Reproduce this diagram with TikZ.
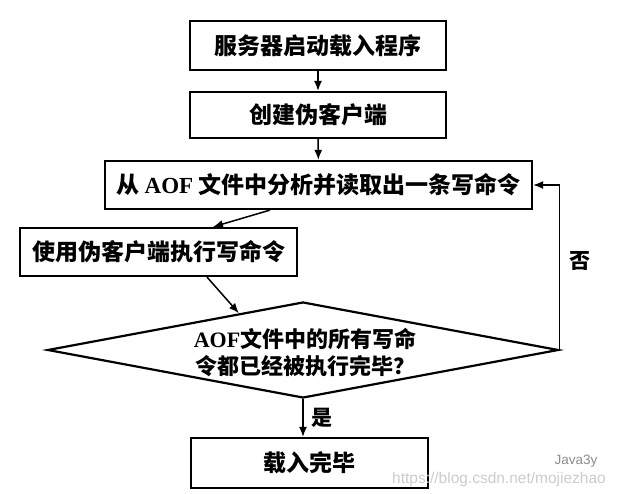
\documentclass[tikz,border=0pt]{standalone}
\usepackage{fontspec}
\setmainfont{Noto Sans CJK SC}
\newfontfamily\lat{Liberation Serif}
\newfontfamily\wm{Liberation Sans}
\usetikzlibrary{shapes.geometric,arrows.meta,calc}
\begin{document}
\begin{tikzpicture}[x=1pt,y=-1pt,
  box/.style={draw,line width=2.2pt,rectangle,inner sep=0pt,font=\fontsize{23}{26}\selectfont\bfseries},
  arr/.style={line width=1.5pt,-{Latex[length=10pt,width=8pt]}},
  lbl/.style={font=\fontsize{21}{24}\selectfont\bfseries}]
\useasboundingbox (0,0) rectangle (618,494);
\node[box,minimum width=256pt,minimum height=49pt] (b1) at (318,45.5) {服务器启动载入程序};
\node[box,minimum width=256pt,minimum height=46pt] (b2) at (318,115) {创建伪客户端};
\node[box,minimum width=427pt,minimum height=48pt] (b3) at (318.5,185) {从 {\lat\bfseries AOF} 文件中分析并读取出一条写命令};
\node[box,minimum width=277pt,minimum height=48pt] (b4) at (158.5,252) {使用伪客户端执行写命令};
\node[draw,line width=2.2pt,diamond,inner sep=0pt,minimum width=511pt,minimum height=96pt] (d) at (303,350) {};
\node[align=center,font=\fontsize{22}{27}\selectfont\bfseries] (dt) at (305,353) {{\lat\bfseries AOF}文件中的所有写命\\令都已经被执行完毕？};
\node[box,minimum width=237pt,minimum height=50pt] (b5) at (309.5,463) {载入完毕};
\draw[arr] (b1) -- (b2);
\draw[arr] (b2) -- (b3);
\draw[arr] ([xshift=-48.5pt]b3.south) -- ([xshift=54.5pt]b4.north);
\draw[arr] ([xshift=48.5pt]b4.south) -- ($(d.west)!0.75!(d.north)$);
\draw[arr] (d.south) -- (d.south |- b5.north) node[lbl,midway,right=4pt] (yes) {是};
\draw[arr] (d.east) |- (b3.east) node[lbl,pos=0.27,right=6pt] (no) {否};
\node[font=\wm\fontsize{15.5}{17}\selectfont,text=black!20] (url) at (499,479) {https://blog.csdn.net/mojiezhao};
\node[font=\wm\fontsize{13.5}{15}\selectfont,text=black!45] (j3y) at (576,461) {Java3y};
\end{tikzpicture}
\end{document}
